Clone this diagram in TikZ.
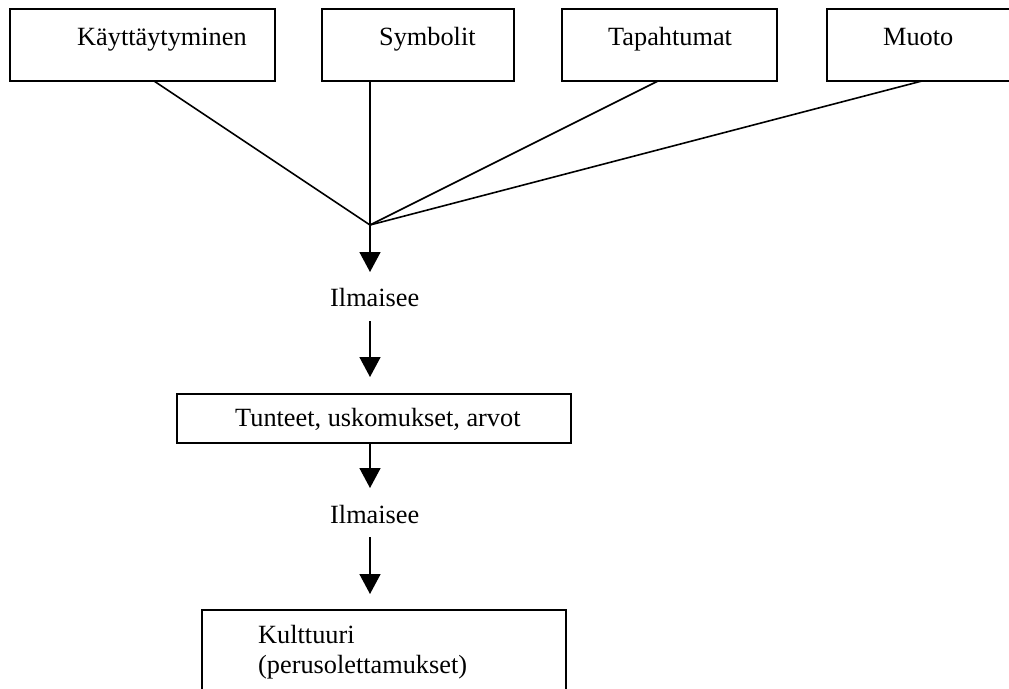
\documentclass[tikz,border=0pt]{standalone}
\usepackage{fontspec}
\setmainfont{Liberation Serif}
\usetikzlibrary{arrows.meta}
\begin{document}
\begin{tikzpicture}[x=1pt,y=-1pt,
  boxx/.style={draw,line width=1.9pt,inner sep=0pt,outer sep=0pt,anchor=north west},
  lbl/.style={anchor=base west,inner sep=0pt,font=\fontsize{26.3}{30}\selectfont},
  conn/.style={line width=1.6pt},
  arr/.style={line width=1.6pt,-{Triangle[width=21pt,length=20pt]}}]
\useasboundingbox (0,0) rectangle (1009,688);
\clip (0,0) rectangle (1009,688);
% top boxes
\node[boxx,minimum width=265pt,minimum height=72pt] (b1) at (10,9) {};
\node[boxx,minimum width=192pt,minimum height=72pt] (b2) at (322,9) {};
\node[boxx,minimum width=215pt,minimum height=72pt] (b3) at (562,9) {};
\node[boxx,minimum width=192pt,minimum height=72pt] (b4) at (827,9) {};
\node[lbl] (t1) at (77,45) {Käyttäytyminen};
\node[lbl] (t2) at (379,45) {Symbolit};
\node[lbl] (t3) at (608,45) {Tapahtumat};
\node[lbl] (t4) at (883,45) {Muoto};
% hub
\coordinate (hub) at (370,225);
\draw[conn] ([xshift=11.5pt]b1.south) -- (hub);
\draw[conn] ([xshift=-48pt]b2.south) -- (hub);
\draw[conn] ([xshift=-11.5pt]b3.south) -- (hub);
\draw[conn] ([xshift=-1pt]b4.south) -- (hub);
\coordinate (tip1) at (370,272);
\draw[arr] (hub) -- (tip1);
\node[lbl] (il1) at (330,306) {Ilmaisee};
\coordinate (s2) at (370,321);
\coordinate (tip2) at (370,377);
\draw[arr] (s2) -- (tip2);
% middle box
\node[boxx,minimum width=394pt,minimum height=49pt] (mid) at (177,394) {};
\node[lbl] (tm) at (235,426) {Tunteet, uskomukset, arvot};
\coordinate (tip3) at (370,488);
\draw[arr] (mid.south -| tip3) -- (tip3);
\node[lbl] (il2) at (330,523) {Ilmaisee};
\coordinate (s4) at (370,537);
\coordinate (tip4) at (370,594);
\draw[arr] (s4) -- (tip4);
% bottom box
\node[boxx,minimum width=364pt,minimum height=100pt] (bot) at (202,610) {};
\node[lbl] (tb) at (258,643) {Kulttuuri};
\node[lbl] (tb2) at (258,673) {(perusolettamukset)};
\end{tikzpicture}
\end{document}
